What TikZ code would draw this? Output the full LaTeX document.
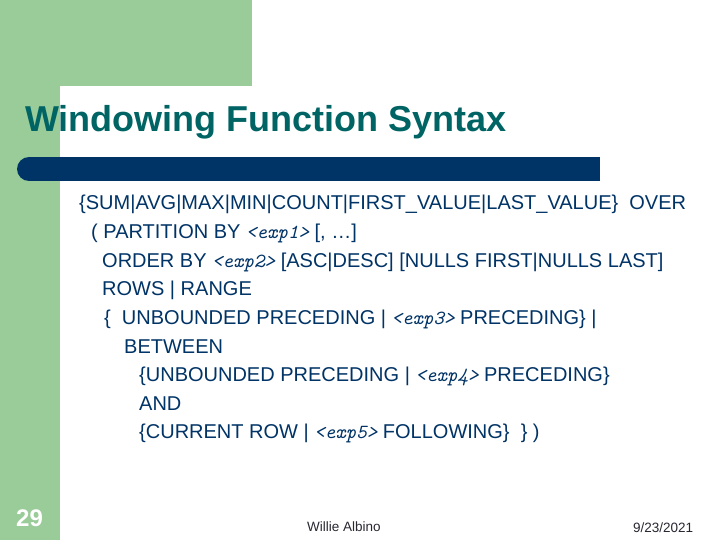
\documentclass[tikz,border=0pt]{standalone}
\usepackage{fontspec}
\setmainfont{Liberation Sans}
\definecolor{slidegreen}{RGB}{153,204,153}
\definecolor{titleteal}{RGB}{0,100,100}
\definecolor{navyblue}{RGB}{0,51,102}
\definecolor{footgray}{RGB}{40,40,50}
\def\ex#1{{\fontsize{20}{24}\ttfamily\itshape <#1>}}

\begin{document}
\begin{tikzpicture}[x=1pt,y=-1pt,
	body/.style={anchor=base west,inner sep=0pt,text=navyblue,font=\fontsize{20}{24}\selectfont},
	foot/.style={anchor=base west,inner sep=0pt,text=footgray,font=\fontsize{13.5}{16}\selectfont}]
				\useasboundingbox (0,0) rectangle (720,540);
				\fill[white] (0,0) rectangle (720,540);
				
				% green frame
				\fill[slidegreen] (0,0) rectangle (252,86);
				\fill[slidegreen] (0,86) rectangle (60,540);
				
				% title and bar
				\node[anchor=base west,inner sep=0pt,text=titleteal,font=\bfseries\fontsize{36}{40}\selectfont] (title) at (25,132) {Windowing Function Syntax};
				\fill[navyblue] (29,157) rectangle (600,181);
				\fill[navyblue] (29,169) circle (12);
				
				% syntax lines
				\node[body] (l1) at (79,210) {\{SUM|AVG|MAX|MIN|COUNT|FIRST\_VALUE|LAST\_VALUE\}\ \ OVER};
				\node[body] (l2) at (91,238.6) {( PARTITION BY \ex{exp1} [, …]};
				\node[body] (l3) at (102,267.2) {ORDER BY \ex{exp2} [ASC|DESC] [NULLS FIRST|NULLS LAST]};
				\node[body] (l4) at (102,295.8) {ROWS | RANGE};
				\node[body] (l5) at (104,324.4) {\{\ \ UNBOUNDED PRECEDING | \ex{exp3} PRECEDING\} |};
				\node[body] (l6) at (124,353) {BETWEEN};
				\node[body] (l7) at (139,381.6) {\{UNBOUNDED PRECEDING | \ex{exp4} PRECEDING\}};
				\node[body] (l8) at (139,410.2) {AND};
				\node[body] (l9) at (139,438.8) {\{CURRENT ROW | \ex{exp5} FOLLOWING\}\ \ \} )};
				
				% footer
				\node[anchor=base west,inner sep=0pt,text=white,font=\bfseries\fontsize{24}{28}\selectfont] (num) at (16,526) {29};
				\node[foot] (author) at (307,531) {Willie Albino};
				\node[foot] (date) at (633,532) {9/23/2021};
\end{tikzpicture}
\end{document}
